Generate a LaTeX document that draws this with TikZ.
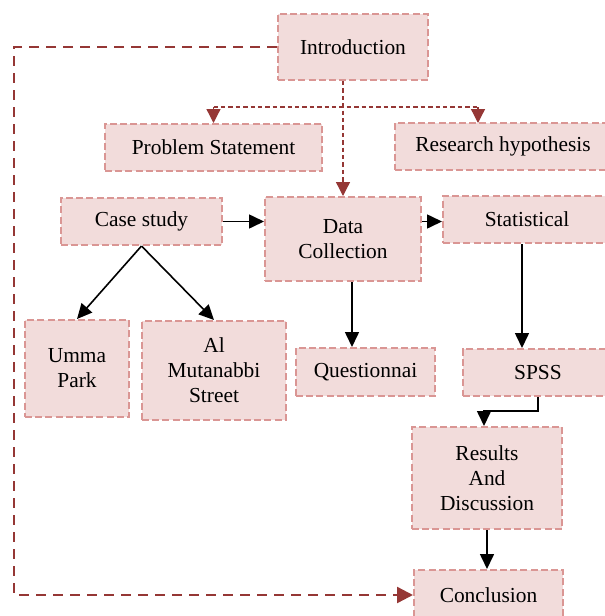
\documentclass[tikz,border=0pt]{standalone}
\usepackage{fontspec}
\setmainfont{Liberation Serif}
\usetikzlibrary{arrows.meta}

\definecolor{boxfill}{HTML}{F2DCDB}
\definecolor{boxline}{HTML}{DA9694}
\definecolor{darkred}{HTML}{953735}

\tikzset{
  stagebox/.style={draw=boxline, fill=boxfill, line width=1pt, dash pattern=on 3.5pt off 1.6pt,
    align=center, inner sep=0pt, font=\fontsize{10.7}{12.5}\selectfont},
  flow/.style={-{Triangle[length=7.5pt,width=7pt]}, line width=0.8pt},
  bigdash/.style={darkred, line width=1.2pt, dash pattern=on 5pt off 3.5pt},
  smalldash/.style={darkred, line width=0.65pt, dash pattern=on 2.2pt off 1.5pt}
}

\begin{document}
\begin{tikzpicture}[x=0.5pt, y=-0.5pt]
  \useasboundingbox (0,0) rectangle (605,616);

  % Boxes
  \node[stagebox, minimum width=75pt, minimum height=33pt] (intro) at (353,47) {Introduction};
  \node[stagebox, minimum width=108.5pt, minimum height=23.5pt] (prob) at (213.5,147.5) {Problem Statement};
  \node[stagebox, minimum width=108pt, minimum height=23.5pt] (hyp) at (503,146.5) {Research hypothesis};
  \node[stagebox, minimum width=80.5pt, minimum height=23.5pt] (case) at (141.5,221.5) {Case study};
  \node[stagebox, minimum width=78pt, minimum height=42pt] (data) at (343,239) {Data\\Collection};
  \node[stagebox, minimum width=84pt, minimum height=23.5pt] (stat) at (527,219.5) {Statistical};
  \node[stagebox, minimum width=52pt, minimum height=48.5pt] (umma) at (77,368.5) {Umma\\Park};
  \node[stagebox, minimum width=72pt, minimum height=49.5pt] (mutan) at (214,370.5) {Al\\Mutanabbi\\Street};
  \node[stagebox, minimum width=69.5pt, minimum height=24pt] (quest) at (365.5,372) {Questionnai};
  \node[stagebox, minimum width=75pt, minimum height=23.5pt] (spss) at (538,372.5) {SPSS};
  \node[stagebox, minimum width=75pt, minimum height=51pt] (results) at (487,478) {Results\\And\\Discussion};
  \node[stagebox, minimum width=74.5pt, minimum height=25pt] (concl) at (488.5,595) {Conclusion};

  % Dashed links out of the introduction
  \coordinate (corner) at (14,595);
  \coordinate (split) at (343,107);
  \coordinate (hypin) at (478,123);
  \draw[bigdash, -{Triangle[length=8pt,width=8pt]}] (intro.west) -- (intro.west -| corner) -- (corner) -- (concl.west);
  \draw[smalldash, -{Triangle[length=7pt,width=7pt]}] (data.north |- intro.south) -- (data.north);
  \draw[smalldash] (prob.north |- split) -- (hypin |- split);
  \draw[smalldash, -{Triangle[length=7pt,width=7pt]}] (prob.north |- split) -- (prob.north);
  \draw[smalldash, -{Triangle[length=7pt,width=7pt]}] (hypin |- split) -- (hypin);

  % Solid arrows
  \draw[flow] (case.east) -- (data.west |- case.east);
  \draw[flow] (data.east |- case.east) -- (stat.west |- case.east);
  \draw[flow] (case.south) -- (umma.north);
  \draw[flow] (case.south) -- (mutan.north);
  \draw[flow] ([xshift=4.5pt]data.south) -- ([xshift=4.5pt]data.south |- quest.north);
  \draw[flow] ([xshift=-2.5pt]stat.south) -- ([xshift=-2.5pt]stat.south |- spss.north);
  \draw[flow] (spss.south) -- ++(0,14) -| ([xshift=-1.5pt]results.north);
  \draw[flow] (results.south) -- (results.south |- concl.north);
\end{tikzpicture}
\end{document}
